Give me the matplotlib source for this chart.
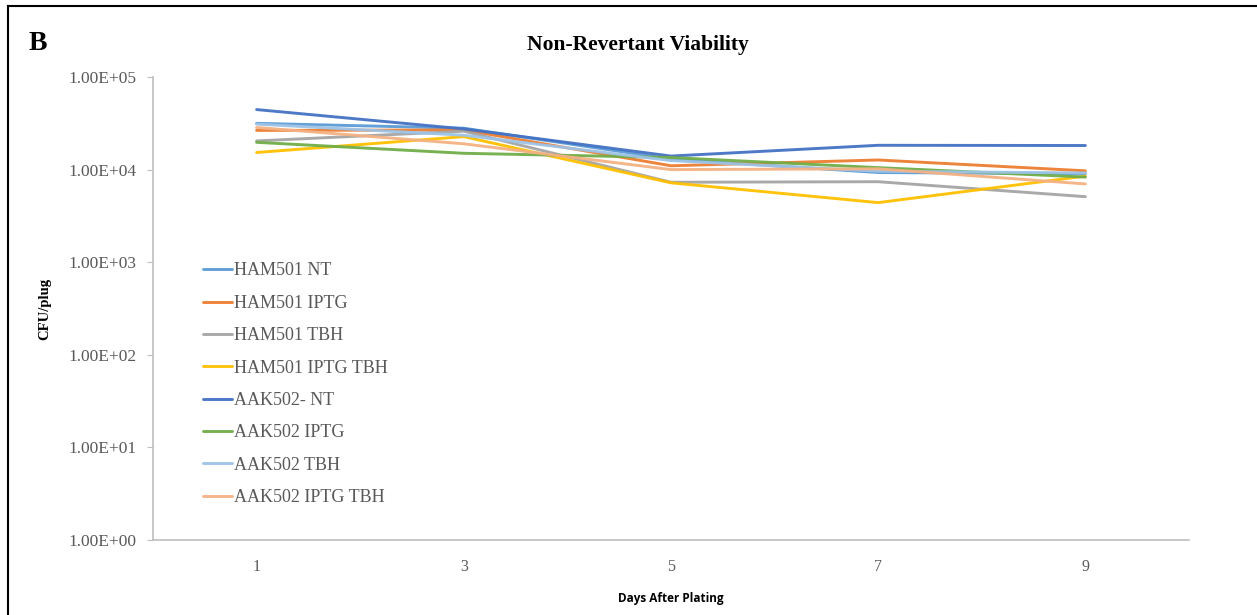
import matplotlib
matplotlib.use('Agg')
import matplotlib.pyplot as plt
from matplotlib.ticker import FixedLocator, NullLocator

days = ['1', '3', '5', '7', '9']

series_names = ['HAM501 NT', 'HAM501 IPTG', 'HAM501 TBH', 'HAM501 IPTG TBH',
                'AAK502- NT', 'AAK502 IPTG', 'AAK502 TBH', 'AAK502 IPTG TBH']

ham501_nt = [31600, 28000, 13000, 9300, 9000]
ham501_iptg = [26500, 26800, 11000, 12700, 9700]
ham501_tbh = [20400, 26000, 7300, 7400, 5100]
ham501_iptg_tbh = [15300, 22700, 7200, 4400, 8500]
aak502_nt = [44500, 27500, 14000, 18300, 18200]
aak502_iptg = [19700, 15000, 13500, 10500, 8300]
aak502_tbh = [31000, 23500, 12500, 9600, 9200]
aak502_iptg_tbh = [28500, 19000, 10000, 10200, 7000]

colors = ['#5B9BD5', '#ED7D31', '#A5A5A5', '#FFC000',
          '#4472C4', '#70AD47', '#9DC3E6', '#F4B183']

y_ticks = [1, 10, 100, 1000, 10000, 100000]

serif = ['Liberation Serif', 'DejaVu Serif']

fig = plt.figure(figsize=(12.57, 6.15), dpi=100)
ax = fig.add_axes([153 / 1257, 1 - 540 / 615, (1189 - 153) / 1257, (540 - 77) / 615])

all_series = [ham501_nt, ham501_iptg, ham501_tbh, ham501_iptg_tbh,
              aak502_nt, aak502_iptg, aak502_tbh, aak502_iptg_tbh]
x = list(range(len(days)))
for name, vals, c in zip(series_names, all_series, colors):
    ax.plot(x, vals, color=c, lw=2.1, label=name, alpha=0.95, solid_capstyle='round')

ax.set_yscale('log')
ax.set_ylim(1, 100000)
ax.set_xlim(-0.5, len(days) - 0.5)
ax.yaxis.set_major_locator(FixedLocator(y_ticks))
ax.yaxis.set_minor_locator(NullLocator())
ax.set_yticklabels(['%.2E' % v for v in y_ticks], family=serif, fontsize=12.5, color='#595959')
ax.set_xticks(x)
ax.set_xticklabels(days, family=serif, fontsize=11.5, color='#595959')
ax.tick_params(axis='x', length=0, pad=14)
ax.tick_params(axis='y', length=4, color='#BFBFBF', pad=8)

for s in ['top', 'right']:
    ax.spines[s].set_visible(False)
for s in ['left', 'bottom']:
    ax.spines[s].set_color('#BFBFBF')
    ax.spines[s].set_linewidth(1.2)

ax.set_ylabel('CFU/plug', family=serif, fontweight='bold', fontsize=10.5, labelpad=12)
ax.set_xlabel('Days After Plating', family=['Open Sans', 'DejaVu Sans'], fontweight='bold',
              fontsize=8.5, labelpad=12)

leg = ax.legend(loc='upper left', bbox_to_anchor=(0.041, 0.615), frameon=False,
                prop={'family': serif, 'size': 13}, labelspacing=0.85,
                handlelength=1.6, handletextpad=0.15, borderaxespad=0)
for t in leg.get_texts():
    t.set_color('#595959')

fig.text(638 / 1257, 1 - 45 / 615, 'Non-Revertant Viability', family=serif,
         fontweight='bold', fontsize=15.5, ha='center', va='center')
fig.text(29 / 1257, 1 - 43 / 615, 'B', family=serif, fontweight='bold', fontsize=20,
         ha='left', va='center')

# frame around the panel
fig.add_artist(plt.Line2D([8 / 1257, 8 / 1257], [0, 1 - 6 / 615], transform=fig.transFigure,
                          color='black', lw=1.5))
fig.add_artist(plt.Line2D([8 / 1257, 1], [1 - 6 / 615, 1 - 6 / 615], transform=fig.transFigure,
                          color='black', lw=1.5))

fig.savefig('out.png', dpi=100)
